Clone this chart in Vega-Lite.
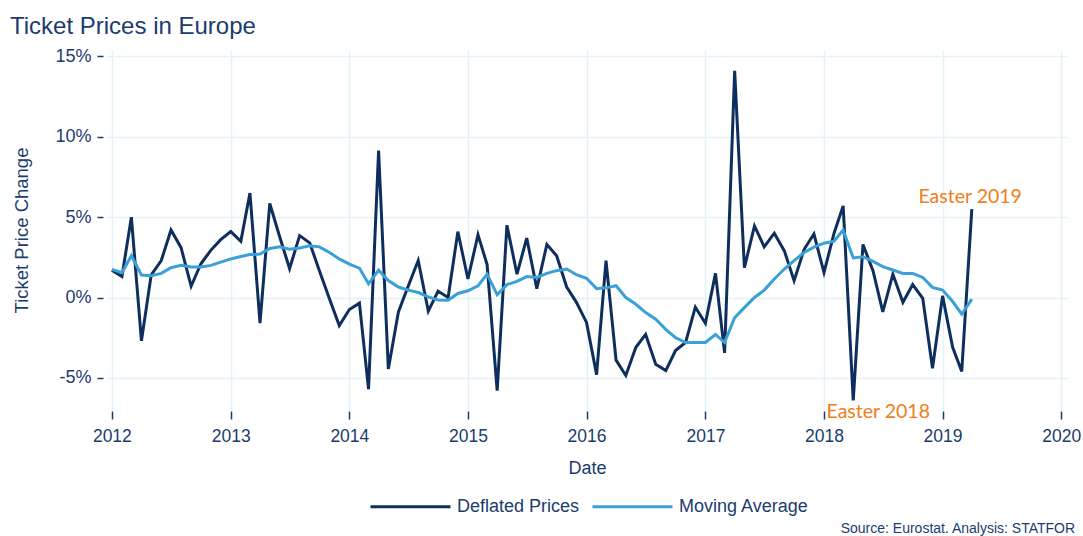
{
  "$schema": "https://vega.github.io/schema/vega-lite/v6.json",
  "autosize": {"type": "none"},
  "width": 960,
  "height": 360,
  "padding": {"left": 107, "top": 50, "right": 16, "bottom": 126},
  "background": "white",
  "title": {"text": "Ticket Prices in Europe", "anchor": "start", "frame": "group", "dx": -97, "offset": 8, "fontSize": 24, "font": "Liberation Sans", "fontWeight": "normal", "color": "#1B3C6E"},
  "config": {"view": {"stroke": null}, "font": "Liberation Sans"},
  "datasets": {
    "prices": [
      {"date": "2012-01-01", "Deflated Prices": 1.7, "Moving Average": 1.75},
      {"date": "2012-02-01", "Deflated Prices": 1.3, "Moving Average": 1.55},
      {"date": "2012-03-01", "Deflated Prices": 5.0, "Moving Average": 2.6},
      {"date": "2012-04-01", "Deflated Prices": -2.7, "Moving Average": 1.4},
      {"date": "2012-05-01", "Deflated Prices": 1.4, "Moving Average": 1.35},
      {"date": "2012-06-01", "Deflated Prices": 2.3, "Moving Average": 1.5},
      {"date": "2012-07-01", "Deflated Prices": 4.2, "Moving Average": 1.85},
      {"date": "2012-08-01", "Deflated Prices": 3.1, "Moving Average": 2.0},
      {"date": "2012-09-01", "Deflated Prices": 0.7, "Moving Average": 1.9},
      {"date": "2012-10-01", "Deflated Prices": 2.1, "Moving Average": 1.9},
      {"date": "2012-11-01", "Deflated Prices": 2.95, "Moving Average": 2.0},
      {"date": "2012-12-01", "Deflated Prices": 3.6, "Moving Average": 2.2},
      {"date": "2013-01-01", "Deflated Prices": 4.1, "Moving Average": 2.4},
      {"date": "2013-02-01", "Deflated Prices": 3.5, "Moving Average": 2.55},
      {"date": "2013-03-01", "Deflated Prices": 6.5, "Moving Average": 2.67},
      {"date": "2013-04-01", "Deflated Prices": -1.6, "Moving Average": 2.7},
      {"date": "2013-05-01", "Deflated Prices": 5.85, "Moving Average": 3.05},
      {"date": "2013-06-01", "Deflated Prices": 3.75, "Moving Average": 3.15},
      {"date": "2013-07-01", "Deflated Prices": 1.8, "Moving Average": 3.0},
      {"date": "2013-08-01", "Deflated Prices": 3.85, "Moving Average": 3.08},
      {"date": "2013-09-01", "Deflated Prices": 3.4, "Moving Average": 3.22},
      {"date": "2013-10-01", "Deflated Prices": 1.65, "Moving Average": 3.15},
      {"date": "2013-11-01", "Deflated Prices": -0.1, "Moving Average": 2.8},
      {"date": "2013-12-01", "Deflated Prices": -1.75, "Moving Average": 2.4},
      {"date": "2014-01-01", "Deflated Prices": -0.75, "Moving Average": 2.08},
      {"date": "2014-02-01", "Deflated Prices": -0.35, "Moving Average": 1.83},
      {"date": "2014-03-01", "Deflated Prices": -5.7, "Moving Average": 0.85},
      {"date": "2014-04-01", "Deflated Prices": 9.15, "Moving Average": 1.7},
      {"date": "2014-05-01", "Deflated Prices": -4.45, "Moving Average": 1.05},
      {"date": "2014-06-01", "Deflated Prices": -0.9, "Moving Average": 0.65},
      {"date": "2014-07-01", "Deflated Prices": 0.7, "Moving Average": 0.46},
      {"date": "2014-08-01", "Deflated Prices": 2.3, "Moving Average": 0.31},
      {"date": "2014-09-01", "Deflated Prices": -0.85, "Moving Average": 0.04},
      {"date": "2014-10-01", "Deflated Prices": 0.4, "Moving Average": -0.15},
      {"date": "2014-11-01", "Deflated Prices": 0.0, "Moving Average": -0.17},
      {"date": "2014-12-01", "Deflated Prices": 4.1, "Moving Average": 0.25},
      {"date": "2015-01-01", "Deflated Prices": 1.15, "Moving Average": 0.42},
      {"date": "2015-02-01", "Deflated Prices": 3.9, "Moving Average": 0.73},
      {"date": "2015-03-01", "Deflated Prices": 2.05, "Moving Average": 1.45},
      {"date": "2015-04-01", "Deflated Prices": -5.8, "Moving Average": 0.17},
      {"date": "2015-05-01", "Deflated Prices": 4.5, "Moving Average": 0.8},
      {"date": "2015-06-01", "Deflated Prices": 1.45, "Moving Average": 1.0},
      {"date": "2015-07-01", "Deflated Prices": 3.7, "Moving Average": 1.3},
      {"date": "2015-08-01", "Deflated Prices": 0.55, "Moving Average": 1.25},
      {"date": "2015-09-01", "Deflated Prices": 3.3, "Moving Average": 1.5},
      {"date": "2015-10-01", "Deflated Prices": 2.6, "Moving Average": 1.67},
      {"date": "2015-11-01", "Deflated Prices": 0.65, "Moving Average": 1.77},
      {"date": "2015-12-01", "Deflated Prices": -0.3, "Moving Average": 1.42},
      {"date": "2016-01-01", "Deflated Prices": -1.55, "Moving Average": 1.2},
      {"date": "2016-02-01", "Deflated Prices": -4.8, "Moving Average": 0.55},
      {"date": "2016-03-01", "Deflated Prices": 2.3, "Moving Average": 0.6},
      {"date": "2016-04-01", "Deflated Prices": -3.9, "Moving Average": 0.73},
      {"date": "2016-05-01", "Deflated Prices": -4.85, "Moving Average": 0.0},
      {"date": "2016-06-01", "Deflated Prices": -3.1, "Moving Average": -0.42},
      {"date": "2016-07-01", "Deflated Prices": -2.3, "Moving Average": -0.94},
      {"date": "2016-08-01", "Deflated Prices": -4.15, "Moving Average": -1.35},
      {"date": "2016-09-01", "Deflated Prices": -4.55, "Moving Average": -1.98},
      {"date": "2016-10-01", "Deflated Prices": -3.3, "Moving Average": -2.5},
      {"date": "2016-11-01", "Deflated Prices": -2.8, "Moving Average": -2.8},
      {"date": "2016-12-01", "Deflated Prices": -0.6, "Moving Average": -2.8},
      {"date": "2017-01-01", "Deflated Prices": -1.6, "Moving Average": -2.8},
      {"date": "2017-02-01", "Deflated Prices": 1.5, "Moving Average": -2.3},
      {"date": "2017-03-01", "Deflated Prices": -3.45, "Moving Average": -2.8},
      {"date": "2017-04-01", "Deflated Prices": 14.1, "Moving Average": -1.25},
      {"date": "2017-05-01", "Deflated Prices": 1.85, "Moving Average": -0.63},
      {"date": "2017-06-01", "Deflated Prices": 4.45, "Moving Average": 0.0},
      {"date": "2017-07-01", "Deflated Prices": 3.15, "Moving Average": 0.46},
      {"date": "2017-08-01", "Deflated Prices": 4.0, "Moving Average": 1.15},
      {"date": "2017-09-01", "Deflated Prices": 2.9, "Moving Average": 1.77},
      {"date": "2017-10-01", "Deflated Prices": 1.05, "Moving Average": 2.3},
      {"date": "2017-11-01", "Deflated Prices": 3.0, "Moving Average": 2.8},
      {"date": "2017-12-01", "Deflated Prices": 3.95, "Moving Average": 3.13},
      {"date": "2018-01-01", "Deflated Prices": 1.55, "Moving Average": 3.38},
      {"date": "2018-02-01", "Deflated Prices": 4.0, "Moving Average": 3.5},
      {"date": "2018-03-01", "Deflated Prices": 5.7, "Moving Average": 4.2},
      {"date": "2018-04-01", "Deflated Prices": -6.4, "Moving Average": 2.46},
      {"date": "2018-05-01", "Deflated Prices": 3.3, "Moving Average": 2.54},
      {"date": "2018-06-01", "Deflated Prices": 1.65, "Moving Average": 2.25},
      {"date": "2018-07-01", "Deflated Prices": -0.9, "Moving Average": 1.92},
      {"date": "2018-08-01", "Deflated Prices": 1.45, "Moving Average": 1.71},
      {"date": "2018-09-01", "Deflated Prices": -0.3, "Moving Average": 1.5},
      {"date": "2018-10-01", "Deflated Prices": 0.8, "Moving Average": 1.5},
      {"date": "2018-11-01", "Deflated Prices": -0.05, "Moving Average": 1.25},
      {"date": "2018-12-01", "Deflated Prices": -4.4, "Moving Average": 0.63},
      {"date": "2019-01-01", "Deflated Prices": 0.1, "Moving Average": 0.46},
      {"date": "2019-02-01", "Deflated Prices": -3.1, "Moving Average": -0.25},
      {"date": "2019-03-01", "Deflated Prices": -4.6, "Moving Average": -1.04},
      {"date": "2019-04-01", "Deflated Prices": 5.5, "Moving Average": -0.1}
    ],
    "notes": [
      {"label": "Easter 2019", "date": "2019-03-27", "value": 6.23},
      {"label": "Easter 2018", "date": "2018-06-17", "value": -7.1}
    ],
    "source": [
      {"label": "Source: Eurostat. Analysis: STATFOR", "date": "2020-02-13", "value": -14.4}
    ]
  },
  "encoding": {
    "x": {
      "field": "date", "type": "temporal",
      "scale": {"type": "utc", "domain": [{"year": 2011, "month": 12, "date": 17, "utc": true}, {"year": 2020, "month": 1, "date": 19, "utc": true}]},
      "axis": {
        "values": [
          {"year": 2012, "month": 1, "date": 1, "utc": true},
          {"year": 2013, "month": 1, "date": 1, "utc": true},
          {"year": 2014, "month": 1, "date": 1, "utc": true},
          {"year": 2015, "month": 1, "date": 1, "utc": true},
          {"year": 2016, "month": 1, "date": 1, "utc": true},
          {"year": 2017, "month": 1, "date": 1, "utc": true},
          {"year": 2018, "month": 1, "date": 1, "utc": true},
          {"year": 2019, "month": 1, "date": 1, "utc": true},
          {"year": 2020, "month": 1, "date": 1, "utc": true}
        ],
        "format": "%Y",
        "domain": false,
        "tickColor": "#1B3C6E", "tickSize": 8, "tickWidth": 1.5, "offset": 1,
        "labelPadding": 8, "labelFontSize": 17.5, "labelColor": "#1B3C6E", "labelFont": "Liberation Sans",
        "title": "Date", "titleFontSize": 18, "titleFontWeight": "normal", "titleColor": "#1B3C6E", "titleFont": "Liberation Sans", "titlePadding": 15,
        "gridColor": "#E2F2F8", "gridWidth": 1.5
      }
    },
    "y": {
      "field": "value", "type": "quantitative",
      "scale": {"domain": [-7, 15.4], "nice": false, "zero": false},
      "axis": {
        "values": [-5, 0, 5, 10, 15],
        "labelExpr": "datum.value + '%'",
        "domain": false,
        "tickColor": "#1B3C6E", "tickSize": 6, "tickWidth": 1.5, "offset": 4,
        "labelPadding": 6, "labelFontSize": 18, "labelColor": "#1B3C6E", "labelFont": "Liberation Sans",
        "title": "Ticket Price Change", "titleFontSize": 18.5, "titleFontWeight": "normal", "titleColor": "#1B3C6E", "titleFont": "Liberation Sans", "titlePadding": 23,
        "gridColor": "#E2F2F8", "gridWidth": 1.5
      }
    }
  },
  "layer": [
    {
      "data": {"name": "prices"},
      "transform": [{"fold": ["Deflated Prices", "Moving Average"], "as": ["series", "value"]}],
      "mark": {"type": "line", "strokeWidth": 3},
      "encoding": {
        "color": {
          "field": "series", "type": "nominal",
          "scale": {"domain": ["Deflated Prices", "Moving Average"], "range": ["#0E2F5E", "#3BA0D6"]},
          "legend": {
            "orient": "none", "legendX": 262, "legendY": 415, "direction": "horizontal", "title": null,
            "symbolType": "stroke", "symbolSize": 6400, "symbolStrokeWidth": 3,
            "labelFontSize": 18, "labelColor": "#1B3C6E", "labelFont": "Liberation Sans", "labelOffset": 5, "columnPadding": 6
          }
        }
      }
    },
    {
      "data": {"name": "notes"},
      "mark": {"type": "text", "font": "Lato", "fontSize": 19.5, "color": "#F07D1A"},
      "encoding": {"text": {"field": "label"}}
    },
    {
      "data": {"name": "source"},
      "mark": {"type": "text", "align": "right", "font": "Liberation Sans", "fontSize": 14, "color": "#1B3C6E"},
      "encoding": {"text": {"field": "label"}}
    }
  ]
}
